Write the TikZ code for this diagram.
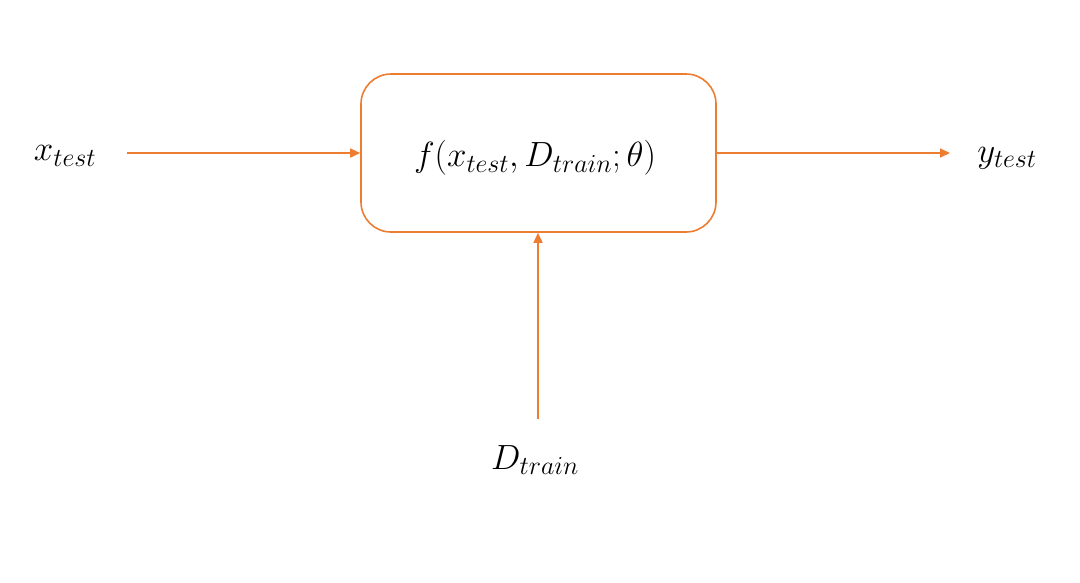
\RequirePackage{fix-cm}
\documentclass[tikz,border=0pt]{standalone}
\usetikzlibrary{arrows.meta}
\definecolor{accent}{HTML}{ED7D31}
\DeclareMathSizes{35}{35}{26}{20}
\begin{document}
\begin{tikzpicture}[x=1pt,y=-1pt,
  conn/.style={draw=accent,line width=1.6pt,-{Triangle[length=10pt,width=9pt]}},
  lbl/.style={inner sep=0pt,font=\fontsize{35}{42}\selectfont}]
\useasboundingbox[fill=white] (0,0) rectangle (1080,582);
\node[draw=accent,line width=1.6pt,rounded corners=30pt,minimum width=355pt,minimum height=158pt,inner sep=0pt] (f) at (538.5,153) {};
\node[lbl] (ft) at (535,158) {$f(x_{test},D_{train};\theta)$};
\node[lbl] (x) at (65,156) {$x_{test}$};
\node[lbl] (y) at (1007,158) {$y_{test}$};
\node[lbl] (d) at (535,460) {$D_{train}$};
\coordinate (xs) at (127,153);
\coordinate (ye) at (950,153);
\coordinate (ds) at (538,419);
\draw[conn] (xs) -- (f.west);
\draw[conn] (f.east) -- (ye);
\draw[conn] (ds) -- (f.south -| ds);
\end{tikzpicture}
\end{document}
